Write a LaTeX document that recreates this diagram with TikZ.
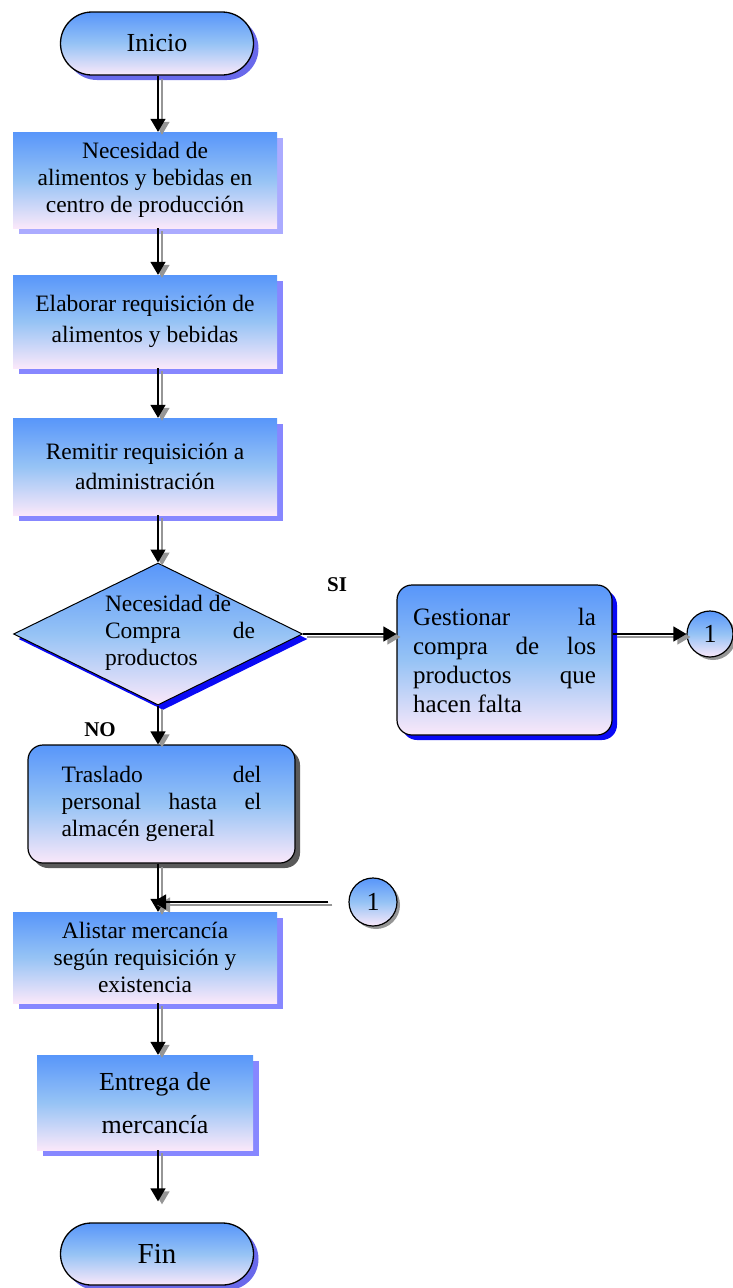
\documentclass[tikz,border=0pt]{standalone}
\usepackage{fontspec}
\setmainfont{Liberation Serif}
\usetikzlibrary{shapes.geometric,shapes.misc,shadows,arrows.meta,calc}

\definecolor{gtop}{RGB}{88,150,250}
\definecolor{gmid}{RGB}{150,195,245}
\definecolor{gbot}{RGB}{250,232,250}
\definecolor{shlilac}{RGB}{135,135,255}
\definecolor{shblue}{RGB}{10,10,245}
\definecolor{shviolet}{RGB}{105,105,235}
\definecolor{shgrey}{RGB}{90,90,90}
\definecolor{arrowgrey}{RGB}{150,150,150}

\tikzset{
  grad/.style={top color=gtop, bottom color=gbot, middle color=gmid},
  txt/.style={font=\fontsize{23.5}{27}\selectfont, align=center},
  plainbox/.style={rectangle, grad, txt, inner sep=0pt,
    drop shadow={shadow xshift=6pt, shadow yshift=-6pt, fill=shlilac, opacity=1}},
  terminal/.style={rounded rectangle, draw=black, line width=1.3pt, grad,
    minimum width=193pt, minimum height=63pt, inner sep=0pt,
    drop shadow={shadow xshift=5pt, shadow yshift=-5pt, fill=shviolet, opacity=1}},
  roundbox/.style={rectangle, rounded corners=15pt, draw=black, line width=1.2pt, grad,
    inner sep=0pt, align=justify},
  connector/.style={circle, draw=black, line width=1.2pt, grad, minimum size=46pt,
    inner sep=0pt, font=\fontsize{26}{30}\selectfont,
    drop shadow={shadow xshift=3pt, shadow yshift=-3pt, fill=arrowgrey, opacity=1}},
  decision/.style={diamond, draw=black, line width=1pt, grad, inner sep=0pt,
    minimum width=289pt, minimum height=142pt,
    drop shadow={shadow xshift=5pt, shadow yshift=-5pt, fill=shblue, opacity=1}},
  flowmain/.style={draw=black, line width=1.4pt, -{Triangle[length=13pt,width=15pt]}},
  flowshade/.style={draw=arrowgrey, line width=1.4pt, -{Triangle[length=13pt,width=15pt]},
    transform canvas={xshift=4pt,yshift=-3pt}},
  answer/.style={font=\fontsize{21}{24}\selectfont\bfseries}
}

% arrow with its grey shadow copy
\newcommand\flowarrow[3][]{%
  \draw[flowshade,#1] #2 -- #3;
  \draw[flowmain,#1] #2 -- #3;}

\begin{document}
\begin{tikzpicture}[x=1pt,y=-1pt]
\useasboundingbox (0,0) rectangle (733,1288);
\coordinate (axis) at (158,0);

\node[terminal, font=\fontsize{26}{30}\selectfont] (inicio) at (157,43.5) {Inicio};

\node[plainbox, minimum width=264pt, minimum height=96pt,
      drop shadow={shadow xshift=6pt, shadow yshift=-6pt, fill=shlilac!70, opacity=1}]
  (n1) at (145,180) {Necesidad de\\alimentos y bebidas en\\centro de producción};

\node[plainbox, minimum width=264pt, minimum height=93pt, font=\fontsize{23.5}{31}\selectfont]
  (n2) at (145,321.5) {Elaborar requisición de\\alimentos y bebidas};

\node[plainbox, minimum width=264pt, minimum height=97pt, font=\fontsize{23.5}{30}\selectfont]
  (n3) at (145,466.5) {Remitir requisición a\\administración};

\node[decision] (dia) at (158,634) {};
\node[txt, align=justify, text width=150pt, inner sep=0pt] (diatxt) at (180,633)
  {Necesidad de\\Compra de\linebreak productos};

\node[roundbox, minimum width=215pt, minimum height=150pt, text width=183pt,
      font=\fontsize{25}{29}\selectfont,
      drop shadow={shadow xshift=5pt, shadow yshift=-5pt, fill=shblue, opacity=1}]
  (gest) at (504.5,660) {Gestionar la\linebreak compra de los\linebreak productos que\linebreak hacen falta};

\node[connector] (c1) at (710,634) {1};

\node[roundbox, minimum width=267pt, minimum height=118pt, text width=200pt,
      font=\fontsize{23.5}{27}\selectfont,
      drop shadow={shadow xshift=5pt, shadow yshift=-5pt, fill=shgrey, opacity=1}]
  (tras) at (161.5,804) {Traslado del\linebreak personal hasta el\linebreak almacén general};

\node[connector, minimum size=48pt] (c2) at (373,902) {1};

\node[plainbox, minimum width=264pt, minimum height=91pt]
  (alis) at (145,957.5) {Alistar mercancía\\según requisición y\\existencia};

\node[plainbox, minimum width=216pt, minimum height=95pt] (entr) at (145,1102.5) {};
\node[txt, font=\fontsize{26}{43}\selectfont, inner sep=0pt] (entrtxt) at (155,1103)
  {Entrega de\\mercancía};

\node[terminal, minimum height=62pt, font=\fontsize{29}{32}\selectfont] (fin) at (157,1254) {Fin};

\node[answer] (si) at (337,585) {SI};
\node[answer] (no) at (100,730) {NO};

% connectors
\flowarrow{(inicio.south -| axis)}{(n1.north -| axis)}
\flowarrow{(n1.south -| axis)}{(n2.north -| axis)}
\flowarrow{(n2.south -| axis)}{(n3.north -| axis)}
\flowarrow{(n3.south -| axis)}{(dia.north -| axis)}
\flowarrow{(dia.east)}{(dia.east -| gest.west)}
\flowarrow{(c1.west -| gest.east)}{(c1.west)}
\flowarrow{(dia.south -| axis)}{(tras.north -| axis)}
\flowarrow{(tras.south -| axis)}{(alis.north -| axis)}
\flowarrow[shorten <=20pt, shorten >=-5pt]{(c2.west)}{(c2.west -| axis)}
\flowarrow{(alis.south -| axis)}{(entr.north -| axis)}
\flowarrow[shorten >=21pt]{(entr.south -| axis)}{(fin.north -| axis)}
\end{tikzpicture}
\end{document}
